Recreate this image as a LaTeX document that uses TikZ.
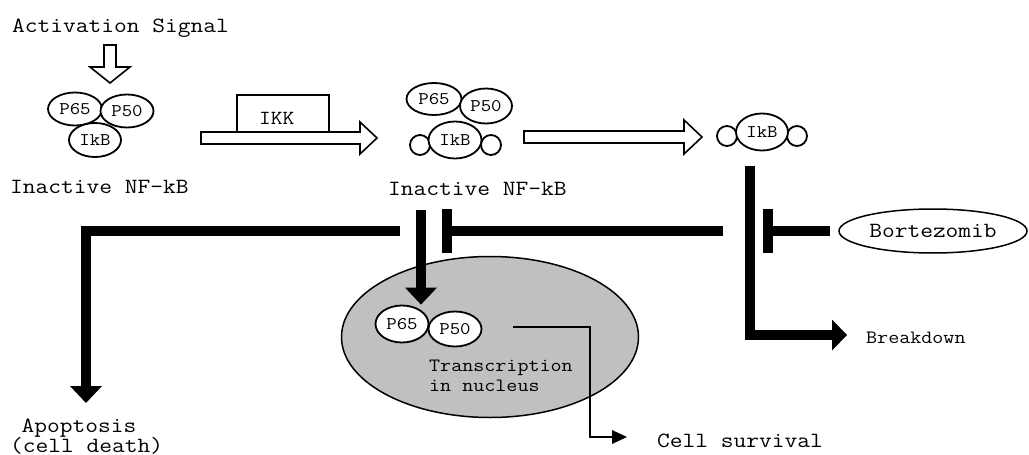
\documentclass[tikz,border=0pt]{standalone}
\usepackage{fontspec}
\newfontfamily\cour{Latin Modern Mono}[FakeStretch=1.14]
\usetikzlibrary{arrows.meta,shapes.geometric}
\definecolor{nucgray}{RGB}{192,192,192}
\begin{document}
\begin{tikzpicture}[x=1pt,y=-1pt,
  lbl/.style={font=\cour\fontsize{21.7}{21.7}\selectfont, inner sep=0pt, anchor=base west},
  smalllbl/.style={font=\cour\fontsize{18.8}{18.8}\selectfont, inner sep=0pt, anchor=base west},
  mol/.style={ellipse, draw=black, line width=1.8pt, fill=white, inner sep=0pt,
              font=\cour\fontsize{17.8}{17.8}\selectfont},
  bead/.style={circle, draw=black, line width=1.8pt, fill=white, inner sep=0pt, minimum size=20pt},
  hollow/.style={draw=black, line width=1.6pt, fill=white, line join=miter},
  heavy/.style={line width=10pt, draw=black},
  heavyarrow/.style={line width=10.5pt, draw=black, -{Triangle[width=32pt,length=17pt,line width=0pt]}},
  thinarrow/.style={line width=2pt, draw=black, -{Triangle[width=14pt,length=15pt,line width=0pt]}}
]
\useasboundingbox (0,0) rectangle (1029,455);

% ---- labels ----
\node[lbl] (act) at (12,32) {Activation Signal};
\node[lbl] (inact1) at (10,193) {Inactive NF-kB};
\node[lbl] (inact2) at (388,195) {Inactive NF-kB};
\node[lbl] (apop) at (21.5,432) {Apoptosis};
\node[lbl] (apop2) at (10,452) {(cell death)};
\node[lbl] (surv) at (657,447) {Cell survival};
\node[smalllbl] (bkdown) at (866,343) {Breakdown};

% ---- activation hollow arrow ----
\draw[hollow] (104,45) -- (116,45) -- (116,67) -- (130,67) -- (110,83) -- (90,67) -- (104,67) -- cycle;

% ---- left complex ----
\node[mol, minimum width=54pt, minimum height=33pt] (p65a) at (75,109) {P65};
\node[mol, minimum width=53pt, minimum height=33pt] (p50a) at (127,111) {P50};
\node[mol, minimum width=52pt, minimum height=34pt] (ikba) at (95,140) {IkB};

% ---- IKK arrow ----
\draw[hollow] (201,132) -- (360,132) -- (360,122) -- (377,138) -- (360,154) -- (360,144) -- (201,144) -- cycle;
\node[draw=black, line width=1.6pt, fill=white, minimum width=92pt, minimum height=37pt, inner sep=0pt] (ikk) at (283,113.5) {};
\node[font=\cour\fontsize{20}{20}\selectfont, inner sep=0pt, anchor=base west] (ikktxt) at (259,124) {IKK};

% ---- middle complex ----
\node[mol, minimum width=55pt, minimum height=32pt] (p65b) at (434,99) {P65};
\node[mol, minimum width=52pt, minimum height=35pt] (p50b) at (486,106) {P50};
\node[bead] (b1) at (420,145) {};
\node[bead] (b2) at (491,145) {};
\node[mol, minimum width=53pt, minimum height=37pt] (ikbb) at (455,140) {IkB};

% ---- second hollow arrow ----
\draw[hollow] (524,131) -- (684,131) -- (684,120) -- (702,137) -- (684,154) -- (684,143) -- (524,143) -- cycle;

% ---- right IkB ----
\node[bead] (b3) at (727,136) {};
\node[bead] (b4) at (797,136) {};
\node[mol, minimum width=52pt, minimum height=37pt] (ikbc) at (762,132) {IkB};

% ---- nucleus ----
\node[ellipse, draw=black, line width=1.5pt, fill=nucgray, minimum width=297pt, minimum height=161pt] (nuc) at (490,337) {};
\node[mol, minimum width=53pt, minimum height=37pt] (p65n) at (402,324) {P65};
\node[mol, minimum width=53pt, minimum height=35pt] (p50n) at (455,329) {P50};
\node[smalllbl] (tr1) at (429,371) {Transcription};
\node[smalllbl] (tr2) at (429,391) {in nucleus};

% ---- Bortezomib ----
\node[ellipse, draw=black, line width=1.5pt, minimum width=188pt, minimum height=44pt, inner sep=0pt,
      font=\cour\fontsize{21.7}{21.7}\selectfont] (bort) at (933,231) {Bortezomib};

% ---- heavy connectors ----
\coordinate (astart) at (400,231);
\coordinate (aend) at (86,403);
\draw[heavyarrow] (astart) -| (aend);

\coordinate (dtop) at (421,210);
\draw[heavyarrow] (dtop) -- (dtop |- p65n.north);

\coordinate (i1s) at (723,231);
\coordinate (i1bar) at (447,231);
\draw[heavy] (i1s) -- (i1bar);
\draw[heavy] ([yshift=-22pt]i1bar) -- ([yshift=22pt]i1bar);

\coordinate (vtop) at (750,166);
\coordinate (bkend) at (847,335);
\draw[line width=10.5pt, draw=black, -{Triangle[width=31pt,length=15pt,line width=0pt]}] (vtop) |- (bkend);

\coordinate (i2bar) at (768,231);
\draw[heavy] ([xshift=-8pt]bort.west) -- (i2bar);
\draw[heavy] ([yshift=-22pt]i2bar) -- ([yshift=22pt]i2bar);

% ---- cell survival ----
\coordinate (cs) at (513,327);
\coordinate (csend) at (627,437);
\draw[thinarrow] (cs) -- ++(77,0) |- (csend);
\end{tikzpicture}
\end{document}
